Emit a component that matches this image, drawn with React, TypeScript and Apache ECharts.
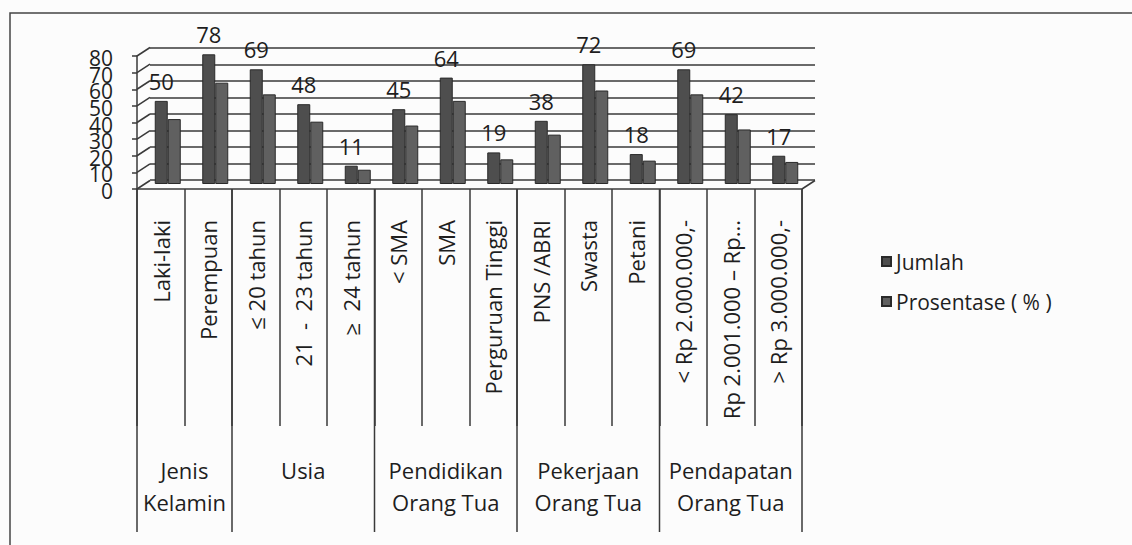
import { useEffect, useRef } from 'react';
import * as echarts from 'echarts';

// Respondent characteristics: counts (Jumlah) and share of the 128 respondents (%)
const categories = [
  'Laki-laki',
  'Perempuan',
  '≤ 20 tahun',
  '21  -  23 tahun',
  '≥  24 tahun',
  '< SMA',
  'SMA',
  'Perguruan Tinggi',
  'PNS /ABRI',
  'Swasta',
  'Petani',
  '< Rp 2.000.000,-',
  'Rp 2.001.000 – Rp...',
  '> Rp 3.000.000,-',
];
const jumlah = [50, 78, 69, 48, 11, 45, 64, 19, 38, 72, 18, 69, 42, 17];
const prosentase = [39.06, 60.94, 53.91, 37.5, 8.59, 35.16, 50, 14.84, 29.69, 56.25, 14.06, 53.91, 32.81, 13.28];

// Category groups shown in the second row of the axis table
const groupNames = ['Jenis\nKelamin', 'Usia', 'Pendidikan\nOrang Tua', 'Pekerjaan\nOrang Tua', 'Pendapatan\nOrang Tua'];
const groupStart = [0, 2, 5, 8, 11];
const groupEnd = [1, 4, 7, 10, 13];

// value-axis tick labels
const yTicks = [0, 10, 20, 30, 40, 50, 60, 70, 80];
const seriesNames = ['Jumlah', 'Prosentase ( % )'];

const FONT = '"Open Sans", sans-serif';
const INK = '#1e1e1e';
const LINE = '#3a3a3a';

export default function App() {
  const ref = useRef<HTMLDivElement>(null);

  useEffect(() => {
    const chart = echarts.init(ref.current!, null, { renderer: 'svg' });

    // back wall, bar plane and front edge of the pseudo-3D box
    const backGrid = { left: 150, top: 48, width: 665, height: 132 };
    const barGrid = { left: 144, top: 51, width: 665, height: 133 };
    const frontGrid = { left: 137, top: 56, width: 665, height: 133 };
    const DX = 13;
    const DY = -8.5;
    const lineStyle = { color: LINE, width: 1.5 };

    const option: any = {
      animation: false,
      backgroundColor: '#fcfcfc',
      textStyle: { fontFamily: FONT },
      grid: [backGrid, barGrid, frontGrid],
      legend: {
        orient: 'vertical',
        left: 876,
        top: 246,
        itemWidth: 9,
        itemHeight: 9,
        itemGap: 19,
        icon: 'rect',
        data: seriesNames,
        textStyle: { fontSize: 21, color: INK, fontFamily: FONT },
      },
      xAxis: [
        { gridIndex: 0, type: 'category', data: categories, show: false },
        { gridIndex: 1, type: 'category', data: categories, show: false },
        {
          gridIndex: 2,
          type: 'category',
          data: categories,
          boundaryGap: true,
          axisLine: { show: true, lineStyle },
          axisTick: { show: true, interval: 0, length: 237, lineStyle },
          axisLabel: {
            interval: 0,
            rotate: 90,
            margin: 31,
            fontSize: 22,
            color: INK,
            fontFamily: FONT,
          },
          splitLine: { show: false },
        },
      ],
      yAxis: [
        {
          gridIndex: 0,
          type: 'value',
          min: 0,
          max: 80,
          interval: 10,
          axisLabel: { show: false },
          axisLine: { show: false },
          axisTick: { show: false },
          splitLine: { show: true, lineStyle },
        },
        { gridIndex: 1, type: 'value', min: 0, max: 80, interval: 10, show: false },
        {
          gridIndex: 2,
          type: 'value',
          min: 0,
          max: 80,
          interval: 10,
          axisLine: { show: true, lineStyle },
          axisTick: { show: true, length: 5, lineStyle },
          axisLabel: { show: false },
          splitLine: { show: false },
        },
      ],
      series: [
        {
          name: seriesNames[0],
          type: 'bar',
          xAxisIndex: 1,
          yAxisIndex: 1,
          data: jumlah,
          barWidth: 13,
          barGap: '0%',
          itemStyle: { color: '#4e4e4e', borderColor: '#2a2a2a', borderWidth: 1 },
          label: {
            show: true,
            position: 'top',
            distance: 9,
            fontSize: 22,
            color: INK,
            fontFamily: FONT,
          },
          z: 3,
        },
        {
          name: seriesNames[1],
          type: 'bar',
          xAxisIndex: 1,
          yAxisIndex: 1,
          data: prosentase,
          barWidth: 13,
          barGap: '0%',
          itemStyle: { color: '#606060', borderColor: '#2a2a2a', borderWidth: 1 },
          z: 3,
        },
        {
          // group separators and group titles under the category labels
          name: 'groups',
          type: 'custom',
          xAxisIndex: 2,
          yAxisIndex: 2,
          silent: true,
          clip: false,
          encode: { x: 0, y: 1 },
          data: groupStart.map((s, i) => [s, groupEnd[i]]),
          renderItem: (params: any, api: any) => {
            const s = api.value(0);
            const e = api.value(1);
            const band = api.size([1, 0])[0];
            const p0 = api.coord([s, 0]);
            const p1 = api.coord([e, 0]);
            const x0 = p0[0] - band / 2;
            const x1 = p1[0] + band / 2;
            const y0 = p0[1];
            const children: any[] = [
              {
                type: 'line',
                shape: { x1: x0, y1: y0, x2: x0, y2: y0 + 343 },
                style: { stroke: LINE, lineWidth: 1.5 },
              },
              {
                type: 'text',
                x: (x0 + x1) / 2,
                y: y0 + 265,
                style: {
                  text: groupNames[params.dataIndex],
                  fill: INK,
                  fontSize: 22,
                  fontFamily: FONT,
                  align: 'center',
                  verticalAlign: 'top',
                  lineHeight: 32,
                },
              },
            ];
            if (params.dataIndex === groupStart.length - 1) {
              children.push({
                type: 'line',
                shape: { x1: x1, y1: y0, x2: x1, y2: y0 + 343 },
                style: { stroke: LINE, lineWidth: 1.5 },
              });
            }
            return { type: 'group', children };
          },
        },
        {
          // front-axis tick labels and the slanted edges joining the front axis to the back wall
          name: 'walls',
          type: 'custom',
          xAxisIndex: 2,
          yAxisIndex: 2,
          silent: true,
          clip: false,
          encode: { x: 0, y: 1 },
          data: yTicks.map((v) => [0, v]),
          renderItem: (params: any, api: any) => {
            const v = api.value(1);
            const band = api.size([1, 0])[0];
            const p = api.coord([0, v]);
            const x = p[0] - band / 2;
            const children: any[] = [
              {
                type: 'line',
                shape: { x1: x, y1: p[1], x2: x + DX, y2: p[1] + DY },
                style: { stroke: LINE, lineWidth: 1.5 },
              },
              {
                type: 'text',
                x: x - 24,
                y: p[1] + 2,
                style: {
                  text: String(yTicks[params.dataIndex]),
                  fill: INK,
                  fontSize: 21,
                  fontFamily: FONT,
                  lineHeight: 16,
                  align: 'right',
                  verticalAlign: 'middle',
                },
              },
            ];
            if (v === 0) {
              const xe = api.coord([categories.length - 1, 0])[0] + band / 2;
              children.push({
                type: 'line',
                shape: { x1: xe, y1: p[1], x2: xe + DX, y2: p[1] + DY },
                style: { stroke: LINE, lineWidth: 1.5 },
              });
            }
            return { type: 'group', children };
          },
        },
      ],
      graphic: [
        {
          type: 'rect',
          silent: true,
          shape: { x: 10, y: 13, width: 1300, height: 700 },
          style: { fill: 'none', stroke: '#444', lineWidth: 1.5 },
        },
      ],
    };

    chart.setOption(option);
    return () => chart.dispose();
  }, []);

  return (
    <div
      ref={ref}
      style={{ position: 'fixed', left: 0, top: 0, width: 1132, height: 545 }}
    />
  );
}
